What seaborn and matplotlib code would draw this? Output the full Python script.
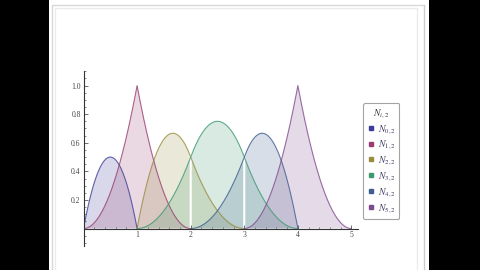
import numpy as np
import pandas as pd
import matplotlib
matplotlib.use("Agg")
import matplotlib.pyplot as plt
import seaborn as sns
from matplotlib.lines import Line2D
from matplotlib.patches import Rectangle
from matplotlib.ticker import MultipleLocator, FixedLocator

# ---- data ----
knots = [0, 0, 1, 1, 2, 3, 4, 4, 5]
degree = 2
names = [r"$N_{0,2}$", r"$N_{1,2}$", r"$N_{2,2}$", r"$N_{3,2}$", r"$N_{4,2}$", r"$N_{5,2}$"]
legend_title = r"$N_{i,2}$"
colors = ["#3d3d99", "#993d71", "#998c3d", "#3d9971", "#3d5e8f", "#7f4a8c"]
gap_knots = [2, 3]
x_ticks = [1, 2, 3, 4, 5]
y_ticks = [0.2, 0.4, 0.6, 0.8, 1.0]


def basis(i, k, t, x):
    if k == 0:
        return np.where((x >= t[i]) & (x < t[i + 1]), 1.0, 0.0)
    out = np.zeros_like(x)
    d1 = t[i + k] - t[i]
    if d1 > 0:
        out = out + (x - t[i]) / d1 * basis(i, k - 1, t, x)
    d2 = t[i + k + 1] - t[i + 1]
    if d2 > 0:
        out = out + (t[i + k + 1] - x) / d2 * basis(i + 1, k - 1, t, x)
    return out


xs = np.linspace(knots[0], knots[-1], 2001)
rows = []
for i, nm in enumerate(names):
    ys = basis(i, degree, knots, xs)
    lo, hi = knots[i], knots[i + degree + 1]
    yl = np.where((xs >= lo) & (xs <= hi), ys, np.nan)
    rows.append(pd.DataFrame({"x": xs, "y": ys, "yline": yl, "name": nm}))
df = pd.concat(rows, ignore_index=True)

# ---- figure ----
sns.set_theme(style="white")
plt.rcParams["mathtext.fontset"] = "stix"
plt.rcParams["font.family"] = ["Liberation Serif", "DejaVu Serif"]

W, H = 480, 270
fig = plt.figure(figsize=(4.8, 2.7), dpi=100, facecolor="black")
fig.add_artist(Rectangle((49 / W, 0), 380 / W, 1, transform=fig.transFigure,
                         facecolor="white", edgecolor="none", zorder=-10))
# notebook frame lines
for (x0, y0, x1, y1, c) in [(52, 5, 424, 5, "#d8d8d8"), (52, 5, 52, 270, "#d8d8d8"),
                            (424, 5, 424, 270, "#cccccc"), (55, 8, 417, 8, "#ebebeb"),
                            (55, 8, 55, 270, "#ebebeb"), (417, 8, 417, 270, "#ebebeb")]:
    fig.add_artist(Line2D([x0 / W, x1 / W], [1 - y0 / H, 1 - y1 / H], transform=fig.transFigure,
                          color=c, linewidth=1.0))

ax = fig.add_axes([83.5 / W, 0.09, 274.4 / W, 0.646])
ax.set_facecolor("none")

sns.lineplot(data=df, x="x", y="yline", hue="name", hue_order=names, palette=colors,
             legend=False, linewidth=0.8, alpha=0.8, ax=ax, sort=False, estimator=None)

mask = np.ones_like(xs, dtype=bool)
for g in gap_knots:
    mask &= np.abs(xs - g) > 0.018
for i, nm in enumerate(names):
    sub = df[df["name"] == nm]
    ax.fill_between(sub["x"].to_numpy(), 0, sub["y"].to_numpy(), where=mask,
                    color=colors[i], alpha=0.2, linewidth=0, interpolate=False)

ax.set_xlim(0, 5.12)
ax.set_ylim(-0.12, 1.1)
ax.set_xlabel("")
ax.set_ylabel("")

for s in ["top", "right"]:
    ax.spines[s].set_visible(False)
ax.spines["left"].set_position(("data", 0))
ax.spines["bottom"].set_position(("data", 0))
for s in ["left", "bottom"]:
    ax.spines[s].set_color("#333333")
    ax.spines[s].set_linewidth(0.8)
    ax.spines[s].set_zorder(5)

ax.xaxis.set_major_locator(FixedLocator(x_ticks))
ax.yaxis.set_major_locator(FixedLocator(y_ticks))
ax.xaxis.set_minor_locator(MultipleLocator(0.2))
ax.yaxis.set_minor_locator(MultipleLocator(0.05))
ax.set_xticklabels([str(v) for v in x_ticks])
ax.set_yticklabels([f"{v:.1f}" for v in y_ticks])
ax.tick_params(which="major", direction="in", length=3, width=0.5, color="#333333",
               labelsize=5.5, labelcolor="#444444", pad=2)
ax.tick_params(which="minor", direction="in", length=1.5, width=0.4, color="#333333")
ax.tick_params(axis="y", which="both", left=True)
ax.tick_params(axis="x", which="both", bottom=True)

handles = [Line2D([], [], marker="s", linestyle="none", markersize=3.5,
                  markerfacecolor=c, markeredgecolor=c) for c in colors]
leg = fig.legend(handles, names, title=legend_title, loc="upper left",
                 bbox_to_anchor=(363 / W, 1 - 103 / H), fontsize=7, title_fontsize=7,
                 frameon=True, fancybox=True, edgecolor="#8c8c8c", facecolor="white",
                 handlelength=0.8, handletextpad=0.3, borderpad=0.4, labelspacing=0.3,
                 borderaxespad=0)
leg.get_frame().set_linewidth(0.8)
for t in leg.get_texts():
    t.set_color("#3b3560")
leg.get_title().set_color("#333333")

fig.savefig("out.png", dpi=100, facecolor=fig.get_facecolor())
